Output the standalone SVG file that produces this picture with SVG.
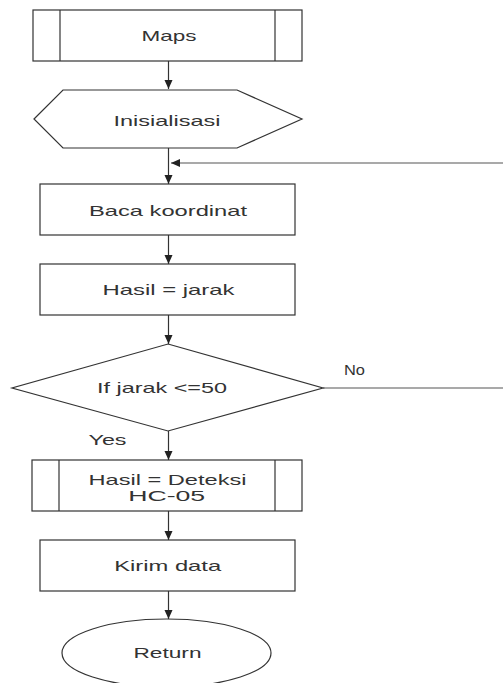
<svg xmlns="http://www.w3.org/2000/svg" width="503" height="683" viewBox="0 0 503 683">
<style>
.shape{fill:#fff;stroke:#333;stroke-width:1.2}
.edge{fill:none;stroke:#333;stroke-width:1.2}
.lbl{font-family:"Liberation Sans",Arial,sans-serif;font-size:14.5px;fill:#333;text-anchor:middle}
</style>
<defs>
<marker id="arr" markerUnits="userSpaceOnUse" markerWidth="10" markerHeight="10" viewBox="0 0 10 10" refX="9" refY="5" orient="auto">
<path d="M0,1 L9,5 L0,9 Z" fill="#222"/>
</marker>
</defs>
<rect width="503" height="683" fill="#fff"/>
<g id="connectors">
<line class="edge" x1="168.5" y1="61" x2="168.5" y2="89" marker-end="url(#arr)"/>
<line class="edge" x1="168.5" y1="148" x2="168.5" y2="184" marker-end="url(#arr)"/>
<line class="edge" x1="503" y1="163" x2="171" y2="163" marker-end="url(#arr)" style="stroke:#555"/>
<line class="edge" x1="168.5" y1="235" x2="168.5" y2="264" marker-end="url(#arr)"/>
<line class="edge" x1="168.5" y1="315" x2="168.5" y2="344" marker-end="url(#arr)"/>
<line class="edge" x1="323" y1="388" x2="503" y2="388" style="stroke:#555"/>
<line class="edge" x1="168.5" y1="431" x2="168.5" y2="460" marker-end="url(#arr)"/>
<line class="edge" x1="168.5" y1="511" x2="168.5" y2="540" marker-end="url(#arr)"/>
<line class="edge" x1="168.5" y1="591" x2="168.5" y2="619" marker-end="url(#arr)"/>
<text class="lbl" x="354.5" y="375" textLength="21" lengthAdjust="spacingAndGlyphs">No</text>
<text class="lbl" x="107.5" y="445" textLength="38" lengthAdjust="spacingAndGlyphs">Yes</text>
</g>
<g id="maps">
<rect class="shape" x="33" y="10" width="269" height="51"/>
<line class="edge" x1="60" y1="10" x2="60" y2="61"/>
<line class="edge" x1="275" y1="10" x2="275" y2="61"/>
<text class="lbl" x="169" y="41" textLength="55" lengthAdjust="spacingAndGlyphs">Maps</text>
</g>
<g id="inisialisasi">
<polygon class="shape" points="34,119 63,90 237,90 302,119 237,148 63,148"/>
<text class="lbl" x="167" y="126" textLength="107" lengthAdjust="spacingAndGlyphs">Inisialisasi</text>
</g>
<g id="baca">
<rect class="shape" x="40" y="184" width="255" height="51"/>
<text class="lbl" x="168" y="216" textLength="158" lengthAdjust="spacingAndGlyphs">Baca koordinat</text>
</g>
<g id="hasil-jarak">
<rect class="shape" x="40" y="264" width="255" height="51"/>
<text class="lbl" x="168.5" y="295" textLength="132" lengthAdjust="spacingAndGlyphs">Hasil = jarak</text>
</g>
<g id="if-jarak">
<polygon class="shape" points="168,344 323,388 168,431 12,388"/>
<text class="lbl" x="162" y="393" textLength="130" lengthAdjust="spacingAndGlyphs">If jarak &lt;=50</text>
</g>
<g id="deteksi">
<rect class="shape" x="32" y="460" width="270" height="51"/>
<line class="edge" x1="59" y1="460" x2="59" y2="511"/>
<line class="edge" x1="275" y1="460" x2="275" y2="511"/>
<text class="lbl" x="167.5" y="485" textLength="158" lengthAdjust="spacingAndGlyphs">Hasil = Deteksi</text>
<text class="lbl" x="166.7" y="500.5" textLength="77" lengthAdjust="spacingAndGlyphs">HC-05</text>
</g>
<g id="kirim">
<rect class="shape" x="40" y="540" width="255" height="51"/>
<text class="lbl" x="167.7" y="571" textLength="107" lengthAdjust="spacingAndGlyphs">Kirim data</text>
</g>
<g id="return">
<ellipse class="shape" cx="166.5" cy="653" rx="104.5" ry="34"/>
<text class="lbl" x="167.5" y="658" textLength="68" lengthAdjust="spacingAndGlyphs">Return</text>
</g>
</svg>
